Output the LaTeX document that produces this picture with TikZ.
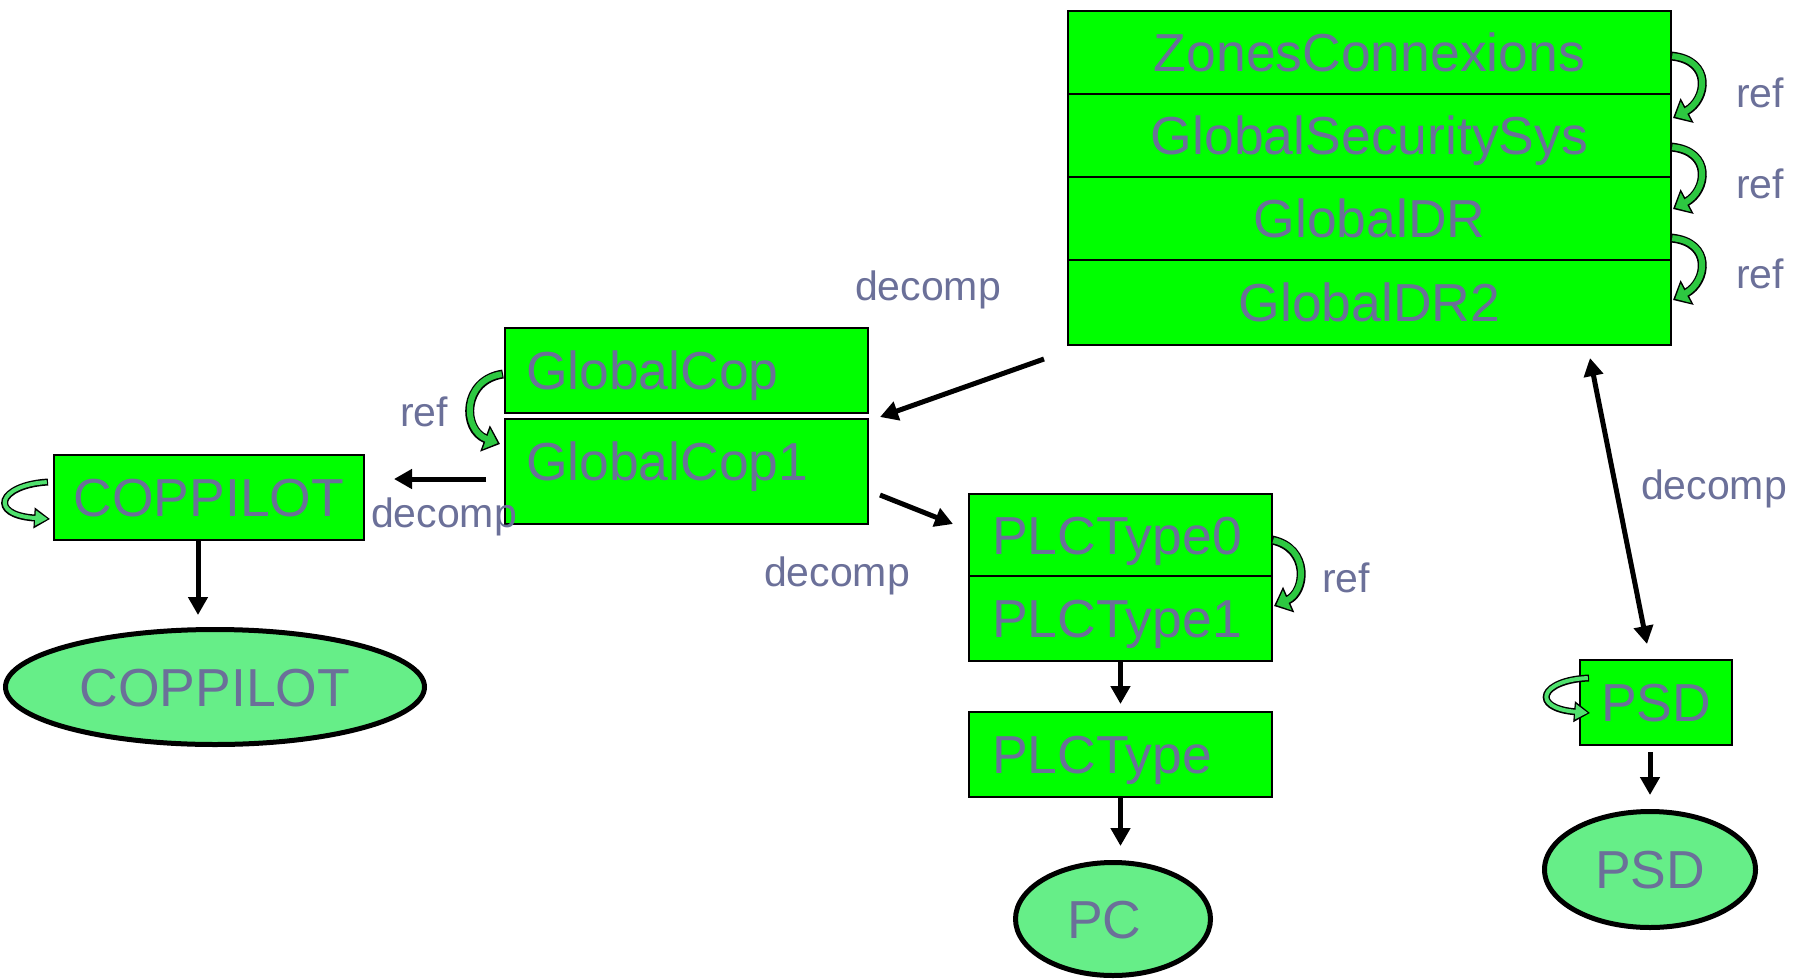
\documentclass[tikz,border=0pt]{standalone}
\usepackage{fontspec}
\setmainfont{Liberation Sans}
\usetikzlibrary{arrows.meta,shapes.geometric}
\definecolor{boxgreen}{RGB}{0,255,0}
\definecolor{ellgreen}{RGB}{102,238,136}
\definecolor{txtblue}{RGB}{107,112,153}
\definecolor{refgreen}{RGB}{45,200,65}
\definecolor{loopgreen}{RGB}{80,225,110}
\newcommand\bxfont{\fontsize{53.5}{60}\selectfont}
\newcommand\lbfont{\fontsize{41}{48}\selectfont}
\begin{document}
\begin{tikzpicture}[x=1pt,y=-1pt,
  box/.style={draw=black, line width=2pt, fill=boxgreen, inner sep=0pt, font=\bxfont, text=txtblue, text height=38.5pt, text depth=0pt},
  lbox/.style={box, align=left},
  ell/.style={ellipse, draw=black, line width=5pt, fill=ellgreen, inner sep=0pt, font=\bxfont, text=txtblue, text height=38.5pt, text depth=0pt},
  lbl/.style={font=\lbfont, text=txtblue, inner sep=0pt, text height=30pt, text depth=8.6pt},
  reflbl/.style={lbl, text depth=0pt},
  conn/.style={line width=5pt, -{Triangle[length=18pt,width=19pt]}},
  dconn/.style={line width=5pt, {Triangle[length=18pt,width=19pt]}-{Triangle[length=18pt,width=19pt]}},
  refout/.style={line width=9pt, black, -{Triangle[length=16pt,width=27pt]}},
  refin/.style={line width=6pt, refgreen, shorten >=2.5pt, shorten <=1.2pt, -{Triangle[length=12pt,width=21pt]}},
  loopout/.style={line width=7pt, black, -{Triangle[length=16pt,width=20pt]}},
  loopin/.style={line width=4pt, loopgreen, shorten >=2.2pt, shorten <=1.2pt, -{Triangle[length=12.5pt,width=14.5pt]}},
]
\useasboundingbox[fill=white] (0,0) rectangle (1805,980);

% top stack
\node[box, minimum width=603pt, minimum height=83.3pt] (zc1) at (1369.5,52.3) {ZonesConnexions};
\node[box, minimum width=603pt, minimum height=82.7pt] (zc2) at (1369.5,135.3) {GlobalSecuritySys};
\node[box, minimum width=603pt, minimum height=83.3pt] (zc3) at (1369.5,218.3) {GlobalDR};
\node[box, minimum width=603pt, minimum height=85pt] (zc4) at (1369.5,302.5) {GlobalDR2};

% GlobalCop
\node[lbox, minimum width=363pt, minimum height=85pt, text width=321pt] (gc) at (686.5,370.5) {GlobalCop};
\node[lbox, minimum width=363pt, minimum height=105pt, text width=321pt, text depth=21pt] (gc1) at (686.5,471.5) {GlobalCop1};

% COPPILOT
\node[box, minimum width=310.5pt, minimum height=85pt] (cop) at (209,497.5) {COPPILOT};
\node[ell, minimum width=419pt, minimum height=115pt] (copE) at (215,687) {COPPILOT};

% PLC
\node[lbox, minimum width=303pt, minimum height=82pt, text width=257pt] (p0) at (1120.5,535) {PLCType0};
\node[lbox, minimum width=303pt, minimum height=85pt, text width=257pt] (p1) at (1120.5,618.5) {PLCType1};
\node[lbox, minimum width=303pt, minimum height=85pt, text width=257pt] (p) at (1120.5,754.5) {PLCType};
\node[ell, minimum width=195pt, minimum height=113pt, text width=92pt, align=left] (pcE) at (1113,919) {PC};

% PSD
\node[box, minimum width=152pt, minimum height=85pt] (psd) at (1656,702.5) {PSD};
\node[ell, minimum width=211pt, minimum height=116pt] (psdE) at (1650,869.5) {PSD};

% labels
\node[lbl] (d1) at (928,290) {decomp};
\node[lbl] (d2) at (837,576) {decomp};
\node[lbl] (d3) at (1714,489) {decomp};
\node[lbl] (d4) at (444,517) {decomp};
\node[reflbl] (r1) at (1760,92) {ref};
\node[reflbl] (r2) at (1760,183) {ref};
\node[reflbl] (r3) at (1760,273) {ref};
\node[reflbl] (r4) at (1346,577) {ref};
\node[reflbl] (r5) at (424,411) {ref};

% connector end points
\coordinate (a1s) at (1044,359);
\coordinate (a1e) at (880,417);
\coordinate (a2s) at (880,495);
\coordinate (a2e) at (953,524);
\coordinate (a3s) at (486,479);
\coordinate (a3e) at (394,479);
\coordinate (a4s) at (198,540);
\coordinate (a4e) at (198,615);
\coordinate (a7s) at (1590,358);
\coordinate (a7e) at (1647,644);
\coordinate (a8s) at (1650,752);
\coordinate (a8e) at (1650,795);

\draw[conn] (a1s) -- (a1e);
\draw[conn] (a2s) -- (a2e);
\draw[conn] (a3s) -- (a3e);
\draw[conn] (a4s) -- (a4e);
\draw[conn, shorten >=7pt] (p1.south) -- (p.north);
\draw[conn, shorten >=14pt] (p.south) -- (p.south |- pcE.north);
\draw[dconn] (a7s) -- (a7e);
\draw[conn] (a8s) -- (a8e);

% ref curved arrows
\coordinate (ra1) at (1671,56);  \coordinate (ra2) at (1673,118);
\coordinate (rb1) at (1671,147); \coordinate (rb2) at (1673,209);
\coordinate (rc1) at (1671,238); \coordinate (rc2) at (1673,300);
\coordinate (rd1) at (1272,540); \coordinate (rd2) at (1274,606);
\coordinate (re1) at (503,374);  \coordinate (re2) at (500,444);
\coordinate (lf1) at (48,482);   \coordinate (lf2) at (50,519);
\coordinate (lg1) at (1589,678); \coordinate (lg2) at (1590,713);

\foreach \s/\e in {ra1/ra2, rb1/rb2, rc1/rc2} {
  \draw[refout] (\s) .. controls ([xshift=42pt,yshift=-4pt]\s) and ([xshift=34pt,yshift=18pt]\e) .. (\e);
  \draw[refin] (\s) .. controls ([xshift=42pt,yshift=-4pt]\s) and ([xshift=34pt,yshift=18pt]\e) .. (\e);
}
\draw[refout] (rd1) .. controls (1310,548) and (1306,592) .. (rd2);
\draw[refin] (rd1) .. controls (1310,548) and (1306,592) .. (rd2);
\draw[refout] (re1) .. controls (462,380) and (462,430) .. (re2);
\draw[refin] (re1) .. controls (462,380) and (462,430) .. (re2);
\draw[loopout] (lf1) .. controls (-2,485) and (-12,515) .. (lf2);
\draw[loopin] (lf1) .. controls (-2,485) and (-12,515) .. (lf2);
\draw[loopout] (lg1) .. controls (1540,680) and (1530,708) .. (lg2);
\draw[loopin] (lg1) .. controls (1540,680) and (1530,708) .. (lg2);
\end{tikzpicture}
\end{document}
